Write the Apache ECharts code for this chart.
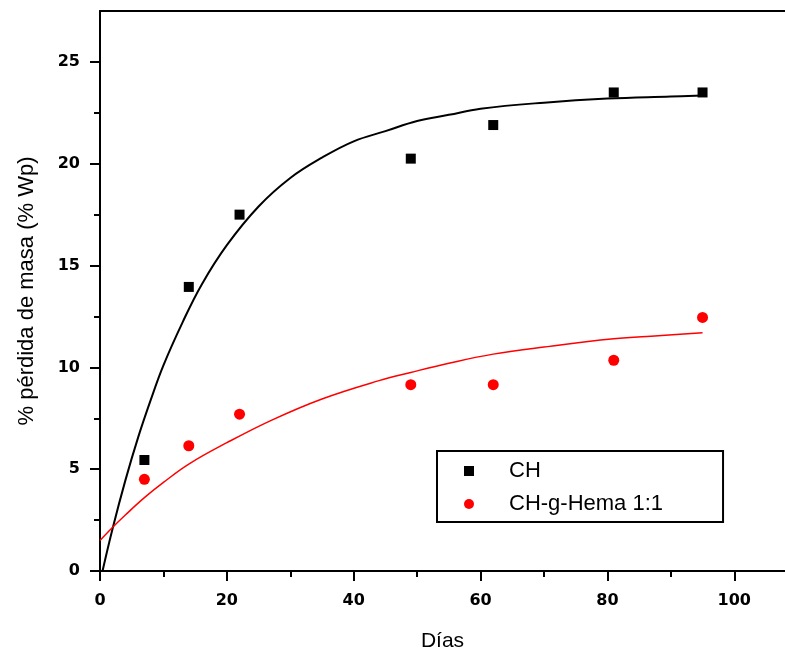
<!DOCTYPE html>
<html><head><meta charset="utf-8">
<script src="https://cdn.jsdelivr.net/npm/echarts@6/dist/echarts.min.js"></script>
<style>html,body{margin:0;padding:0;background:#fff;overflow:hidden}#c{width:785px;height:651px}</style>
</head><body><div id="c"></div>
<script>
// Measured points
var dias = [7, 14, 22, 49, 62, 81, 95];
var chValues = [5.45, 13.95, 17.5, 20.25, 21.9, 23.5, 23.5];
var hemaValues = [4.5, 6.15, 7.7, 9.15, 9.15, 10.35, 12.45];
// Fitted curves
var chFitX = [0.4, 2, 4, 6, 8, 10, 13, 16, 20, 25, 30, 35, 40, 45, 50, 55, 60, 70, 80, 90, 95];
var chFitY = [0, 2.1, 4.45, 6.55, 8.4, 10.1, 12.2, 14.05, 16.0, 17.9, 19.3, 20.3, 21.1, 21.6, 22.1, 22.4, 22.7, 23.0, 23.2, 23.3, 23.35];
var hemaFitX = [0, 2, 4, 7, 10, 14, 20, 27, 35, 44, 49, 55, 62, 70, 81, 88, 95];
var hemaFitY = [1.5, 2.15, 2.75, 3.6, 4.35, 5.25, 6.3, 7.4, 8.45, 9.35, 9.75, 10.2, 10.65, 11.0, 11.4, 11.55, 11.7];
var xTicks = [0, 20, 40, 60, 80, 100];
var yTicks = [0, 5, 10, 15, 20, 25];
var seriesNames = ['CH', 'CH-g-Hema 1:1'];

function zip(a, b) { return a.map(function (v, i) { return [v, b[i]]; }); }

var chart = echarts.init(document.getElementById('c'), null, { width: 785, height: 651 });
var tickFont = { fontFamily: 'DejaVu Sans', fontWeight: 'bold', fontSize: 16, color: '#000' };
chart.setOption({
  animation: false,
  backgroundColor: '#fff',
  grid: { left: 100, top: 11, width: 685, height: 560, containLabel: false, outerBoundsMode: 'none' },
  xAxis: [{
    type: 'value', min: 0, max: 108, interval: 20,
    name: 'Días', nameLocation: 'middle', nameGap: 60,
    nameTextStyle: { fontFamily: 'Liberation Sans', fontSize: 21, color: '#000' },
    axisLine: { lineStyle: { color: '#000', width: 2 } },
    axisTick: { length: 10, lineStyle: { width: 2, color: '#000' }, customValues: xTicks },
    minorTick: { show: true, splitNumber: 2, length: 6, lineStyle: { width: 2, color: '#000' } },
    axisLabel: Object.assign({ margin: 22, customValues: xTicks }, tickFont),
    splitLine: { show: false }
  }, {
    type: 'value', position: 'top', min: 0, max: 108,
    axisLine: { show: true, lineStyle: { color: '#000', width: 2 } },
    axisTick: { show: false }, axisLabel: { show: false }, splitLine: { show: false }
  }],
  yAxis: {
    type: 'value', min: 0, max: 27.5, interval: 5,
    name: '% pérdida de masa (% Wp)', nameLocation: 'middle', nameGap: 62,
    nameTextStyle: { fontFamily: 'Liberation Sans', fontSize: 22, color: '#000' },
    axisLine: { show: true, lineStyle: { color: '#000', width: 2 } },
    axisTick: { show: true, length: 10, lineStyle: { width: 2, color: '#000' }, customValues: yTicks },
    minorTick: { show: true, splitNumber: 2, length: 6, lineStyle: { width: 2, color: '#000' } },
    axisLabel: Object.assign({ margin: 20, customValues: yTicks }, tickFont),
    splitLine: { show: false }
  },
  legend: {
    data: seriesNames,
    orient: 'vertical', left: 437, top: 451,
    padding: [9, 60, 7, 27],
    itemWidth: 10, itemHeight: 10, itemGap: 11,
    borderColor: '#000', borderWidth: 2, borderRadius: 0,
    textStyle: { fontFamily: 'Liberation Sans', fontSize: 22, color: '#000', lineHeight: 22, padding: [0, 0, 0, 30] }
  },
  series: [
    { name: 'CH fit', type: 'line', data: zip(chFitX, chFitY), smooth: 0.4, showSymbol: false,
      lineStyle: { color: '#000', width: 2 }, z: 2 },
    { name: 'CH-g-Hema fit', type: 'line', data: zip(hemaFitX, hemaFitY), smooth: 0.4, showSymbol: false,
      lineStyle: { color: '#ff0000', width: 1.5 }, z: 2 },
    { name: seriesNames[0], type: 'scatter', data: zip(dias, chValues), symbol: 'rect', symbolSize: 10,
      itemStyle: { color: '#000', opacity: 1 }, z: 3 },
    { name: seriesNames[1], type: 'scatter', data: zip(dias, hemaValues), symbol: 'circle', symbolSize: 11,
      itemStyle: { color: '#ff0000', opacity: 1 }, z: 3 }
  ]
});
</script></body></html>
